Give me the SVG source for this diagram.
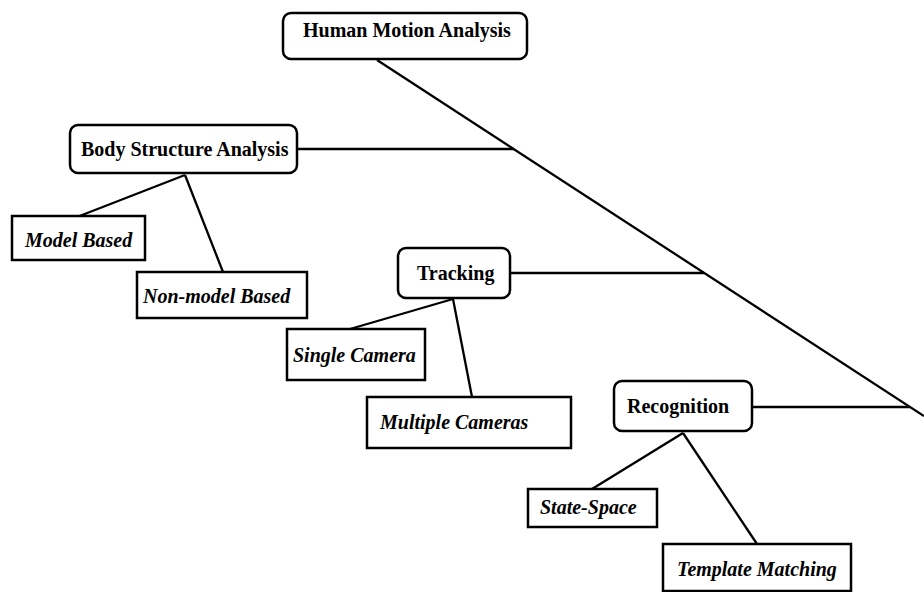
<svg xmlns="http://www.w3.org/2000/svg" width="924" height="592" viewBox="0 0 924 592">
<style>
.r{fill:#fff;stroke:#000;stroke-width:2.5}
.c{stroke:#000;stroke-width:2.3;fill:none}
.t{font-family:"Liberation Serif",serif;font-weight:bold;font-size:20px;fill:#000}
.i{font-style:italic}
</style>
<rect width="924" height="592" fill="#fff"/>
<g id="connectors">
<line class="c" x1="377" y1="60" x2="924" y2="416" stroke-width="2.7"/>
<line class="c" x1="297" y1="149" x2="514" y2="149"/>
<line class="c" x1="510" y1="273" x2="704" y2="273"/>
<line class="c" x1="752" y1="407" x2="910" y2="407"/>
<line class="c" x1="185" y1="175" x2="77" y2="217"/>
<line class="c" x1="185" y1="175" x2="223" y2="272"/>
<line class="c" x1="453" y1="299" x2="350" y2="329"/>
<line class="c" x1="453" y1="299" x2="472" y2="397"/>
<line class="c" x1="683" y1="433" x2="592" y2="489"/>
<line class="c" x1="683" y1="433" x2="757" y2="544"/>
</g>
<g id="human-motion-analysis">
<rect class="r" x="283" y="13" width="244" height="46" rx="8"/>
<text class="t" x="303" y="37">Human Motion Analysis</text>
</g>
<g id="body-structure-analysis">
<rect class="r" x="70" y="125" width="227" height="48" rx="8"/>
<text class="t" x="81" y="156">Body Structure Analysis</text>
</g>
<g id="model-based">
<rect class="r" x="12" y="216" width="133" height="44"/>
<text class="t i" x="25" y="247">Model Based</text>
</g>
<g id="non-model-based">
<rect class="r" x="137" y="272" width="170" height="46"/>
<text class="t i" x="143" y="303">Non-model Based</text>
</g>
<g id="tracking">
<rect class="r" x="398" y="248" width="112" height="50" rx="8"/>
<text class="t" x="417" y="280">Tracking</text>
</g>
<g id="single-camera">
<rect class="r" x="287" y="329" width="138" height="51"/>
<text class="t i" x="293" y="362">Single Camera</text>
</g>
<g id="multiple-cameras">
<rect class="r" x="367" y="397" width="204" height="51"/>
<text class="t i" x="380" y="429">Multiple Cameras</text>
</g>
<g id="recognition">
<rect class="r" x="614" y="381" width="138" height="50" rx="8"/>
<text class="t" x="627" y="413">Recognition</text>
</g>
<g id="state-space">
<rect class="r" x="528" y="489" width="129" height="38"/>
<text class="t i" x="540" y="514">State-Space</text>
</g>
<g id="template-matching">
<rect class="r" x="663" y="544" width="188" height="47"/>
<text class="t i" x="677" y="576">Template Matching</text>
</g>
</svg>
